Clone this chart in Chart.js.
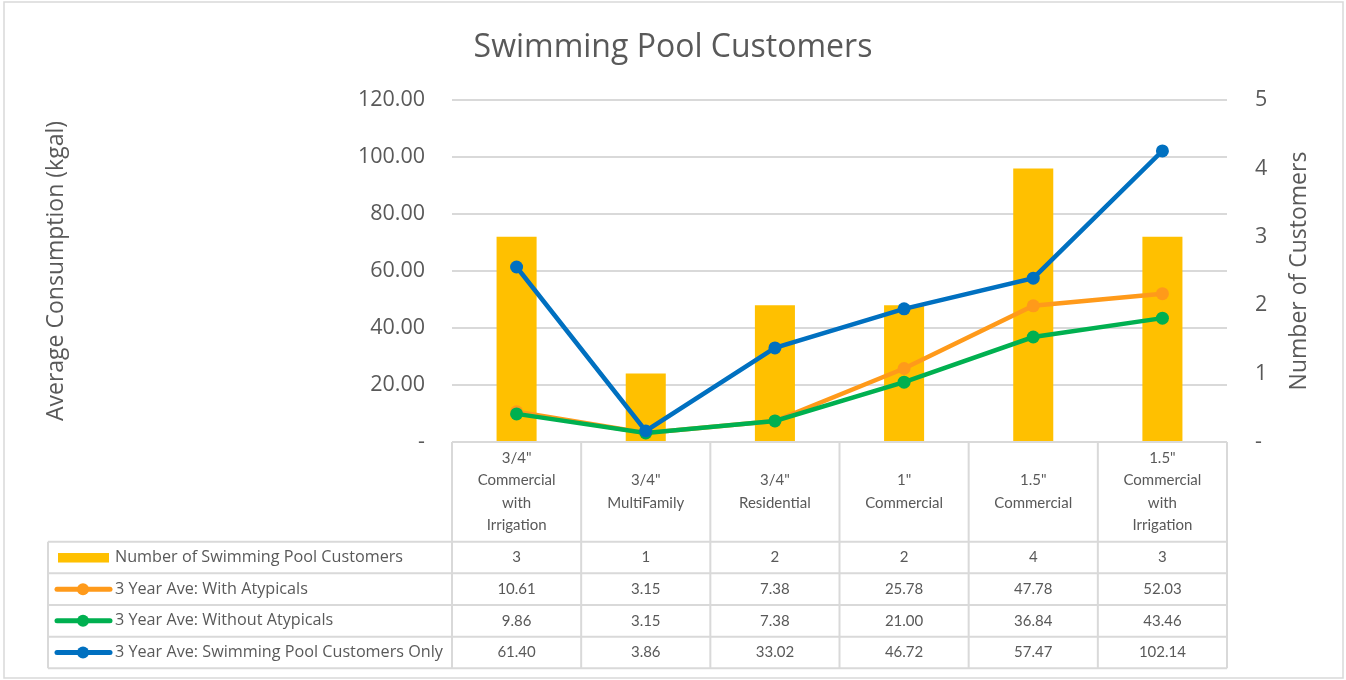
<!DOCTYPE html>
<html>
<head>
<meta charset="utf-8">
<script src="https://cdn.jsdelivr.net/npm/chart.js@4.4.1/dist/chart.umd.min.js"></script>
<style>
  html, body { margin: 0; padding: 0; background: #fff; }
  #wrap { width: 1346px; height: 680px; }
</style>
</head>
<body>
<div id="wrap"><canvas id="myChart" width="1346" height="680"></canvas></div>
<script>
// chart data
const categories = [
  ['3/4"', 'Commercial', 'with', 'Irrigation'],
  ['3/4"', 'MultiFamily'],
  ['3/4"', 'Residential'],
  ['1"', 'Commercial'],
  ['1.5"', 'Commercial'],
  ['1.5"', 'Commercial', 'with', 'Irrigation']
];
const poolCustomers = [3, 1, 2, 2, 4, 3];
const withAtypicals = [10.61, 3.15, 7.38, 25.78, 47.78, 52.03];
const withoutAtypicals = [9.86, 3.15, 7.38, 21.00, 36.84, 43.46];
const poolOnly = [61.40, 3.86, 33.02, 46.72, 57.47, 102.14];

const seriesNames = [
  'Number of Swimming Pool Customers',
  '3 Year Ave: With Atypicals',
  '3 Year Ave: Without Atypicals',
  '3 Year Ave: Swimming Pool Customers Only'
];
const leftTitle = 'Average Consumption (kgal)';
const rightTitle = 'Number of Customers';

const GREY = '#595959';
const GRID = '#d9d9d9';
const COLORS = ['#FFC000', '#FF9A1A', '#00B050', '#0070C0'];
const TABLE_FONT = '15px Lato';

//draws the data table under the plot + right axis title + border
const tablePlugin = {
  id: 'tablePlugin',
  beforeDraw(chart) {
    const ctx = chart.ctx;
    ctx.save();
    ctx.fillStyle = '#fff';
    ctx.fillRect(0, 0, chart.width, chart.height);
    ctx.strokeStyle = GRID;
    ctx.lineWidth = 1.5;
    ctx.strokeRect(4, 2, chart.width - 7, chart.height - 4);
    ctx.restore();
  },
  afterDraw(chart) {
    const ctx = chart.ctx;
    const area = chart.chartArea;
    const xs = chart.scales.x;
    const n = categories.length;
    const colW = (area.right - area.left) / n;
    const tableLeft = 48;
    const rowTop = 541.7;
    const rowH = 31.65;
    const rows = [poolCustomers, withAtypicals, withoutAtypicals, poolOnly];

    ctx.save();
    ctx.strokeStyle = GRID;
    ctx.lineWidth = 2;
    // horizontal lines
    ctx.beginPath();
    ctx.moveTo(area.left, area.bottom);
    ctx.lineTo(area.right, area.bottom);
    for (let r = 0; r <= rows.length; r++) {
      const y = rowTop + r * rowH;
      ctx.moveTo(tableLeft, y);
      ctx.lineTo(area.right, y);
    }
    // vertical lines
    ctx.moveTo(tableLeft, rowTop);
    ctx.lineTo(tableLeft, rowTop + rows.length * rowH);
    for (let i = 0; i <= n; i++) {
      const x = area.left + i * colW;
      ctx.moveTo(x, area.bottom);
      ctx.lineTo(x, rowTop + rows.length * rowH);
    }
    ctx.stroke();

    // header labels
    ctx.fillStyle = GREY;
    ctx.textAlign = 'center';
    ctx.textBaseline = 'middle';
    ctx.font = TABLE_FONT;
    const headMid = (area.bottom + rowTop) / 2;
    const lh = 22.5;
    categories.forEach((lines, i) => {
      const cx = xs.getPixelForValue(i);
      const y0 = headMid - (lines.length - 1) * lh / 2;
      lines.forEach((t, k) => ctx.fillText(t, cx, y0 + k * lh));
    });

    // values
    rows.forEach((vals, r) => {
      const cy = rowTop + r * rowH + rowH / 2;
      vals.forEach((v, i) => {
        const txt = r === 0 ? String(v) : v.toFixed(2);
        ctx.fillText(txt, xs.getPixelForValue(i), cy);
      });
    });

    // legend keys + labels
    ctx.textAlign = 'left';
    ctx.font = '16.2px "Open Sans"';
    rows.forEach((vals, r) => {
      const cy = rowTop + r * rowH + rowH / 2;
      if (r === 0) {
        ctx.fillStyle = COLORS[0];
        ctx.fillRect(58, cy - 4.5, 51, 9.5);
      } else {
        ctx.strokeStyle = COLORS[r];
        ctx.lineWidth = 5;
        ctx.lineCap = 'round';
        ctx.beginPath();
        ctx.moveTo(57, cy);
        ctx.lineTo(110, cy);
        ctx.stroke();
        ctx.fillStyle = COLORS[r];
        ctx.beginPath();
        ctx.arc(83, cy, 6, 0, Math.PI * 2);
        ctx.fill();
      }
      ctx.fillStyle = GREY;
      ctx.fillText(seriesNames[r], 115, cy);
    });

    // right axis title, reads bottom to top like the left one
    ctx.translate(1299, (area.top + area.bottom) / 2);
    ctx.rotate(-Math.PI / 2);
    ctx.textAlign = 'center';
    ctx.font = '23px "Open Sans"';
    ctx.fillText(rightTitle, 0, 0);
    ctx.restore();
  }
};

const ctx = document.getElementById('myChart').getContext('2d');

new Chart(ctx, {
  type: 'bar',
  data: {
    labels: categories.map(c => c.join(' ')),
    datasets: [
      {
        type: 'line',
        label: seriesNames[3],
        data: poolOnly,
        yAxisID: 'y',
        borderColor: COLORS[3],
        backgroundColor: COLORS[3],
        borderWidth: 4.5,
        pointRadius: 6.5,
        pointHoverRadius: 6.5,
        pointBorderWidth: 0,
        order: 1
      },
      {
        type: 'line',
        label: seriesNames[2],
        data: withoutAtypicals,
        yAxisID: 'y',
        borderColor: COLORS[2],
        backgroundColor: COLORS[2],
        borderWidth: 4.5,
        pointRadius: 6.5,
        pointHoverRadius: 6.5,
        pointBorderWidth: 0,
        order: 2
      },
      {
        type: 'line',
        label: seriesNames[1],
        data: withAtypicals,
        yAxisID: 'y',
        borderColor: COLORS[1],
        backgroundColor: COLORS[1],
        borderWidth: 4.5,
        pointRadius: 6.5,
        pointHoverRadius: 6.5,
        pointBorderWidth: 0,
        order: 3
      },
      {
        type: 'bar',
        label: seriesNames[0],
        data: poolCustomers,
        yAxisID: 'y1',
        backgroundColor: COLORS[0],
        barPercentage: 0.31,
        categoryPercentage: 1,
        order: 4
      }
    ]
  },
  options: {
    responsive: false,
    animation: false,
    layout: { padding: { left: 0, right: 0, top: 0, bottom: 238 } },
    plugins: {
      legend: { display: false },
      tooltip: { enabled: false },
      title: {
        display: true,
        text: 'Swimming Pool Customers',
        color: GREY,
        font: { family: 'Open Sans', size: 32, weight: 'normal', lineHeight: 1.2 },
        padding: { top: 29, bottom: 32.6 }
      }
    },
    scales: {
      x: {
        display: false,
        offset: true
      },
      y: {
        position: 'left',
        min: 0,
        max: 120,
        ticks: {
          stepSize: 20,
          padding: 27,
          color: GREY,
          font: { family: 'Open Sans', size: 21.5 },
          callback: v => v === 0 ? '-' : v.toFixed(2)
        },
        grid: { color: GRID, lineWidth: 2, drawTicks: false },
        border: { display: false },
        title: {
          display: true,
          text: leftTitle,
          color: GREY,
          font: { family: 'Open Sans', size: 23 },
          padding: { top: 43, bottom: 0 }
        },
        afterFit(scale) { scale.width = 452; }
      },
      y1: {
        position: 'right',
        min: 0,
        max: 5,
        ticks: {
          stepSize: 1,
          padding: 28,
          color: GREY,
          font: { family: 'Open Sans', size: 21.5 },
          callback: v => v === 0 ? '-' : String(v)
        },
        grid: { display: false, drawTicks: false },
        border: { display: false },
        afterFit(scale) { scale.width = 119; }
      }
    }
  },
  plugins: [tablePlugin]
});
</script>
</body>
</html>
